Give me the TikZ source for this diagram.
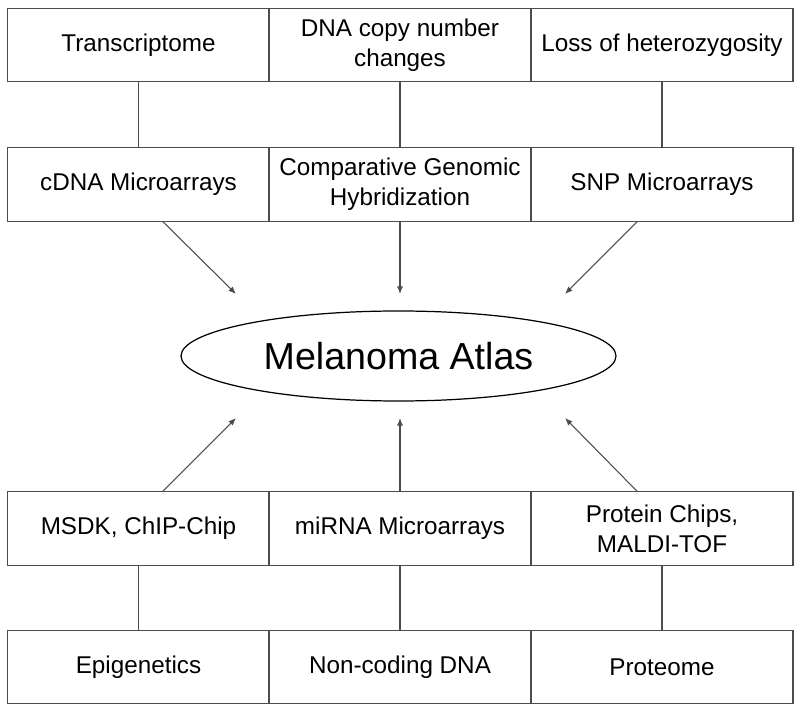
\documentclass[tikz,border=0pt]{standalone}
\usepackage{fontspec}
\setmainfont{Liberation Sans}
\usetikzlibrary{arrows.meta,shapes.geometric}

\begin{document}
\begin{tikzpicture}
\tikzset{ >={Latex[length=1.5mm,width=1.2mm]},
  cell/.style={draw=black!70, line width=0.6pt, minimum width=5.24cm, minimum height=1.47cm,
               inner sep=0pt, align=center, font=\fontsize{13.8}{17}\selectfont},
  link/.style={draw=black!70, line width=0.6pt},
}

%\draw [lightgray, dashed](0,0) grid (16,14.2);
\useasboundingbox (0,0) rectangle (16,14.2);

%%% Blocos

% data types (top)
\node [cell] (trans) at ( 2.77,13.3) {Transcriptome};
\node [cell] (dnacn) at ( 8.00,13.3) {DNA copy number\\changes};
\node [cell] (loh)   at (13.24,13.3) {Loss of heterozygosity};

% platforms (top)
\node [cell] (cdna) at ( 2.77,10.51) {cDNA Microarrays};
\node [cell] (cgh)  at ( 8.00,10.51) {Comparative Genomic\\Hybridization};
\node [cell] (snp)  at (13.24,10.51) {SNP Microarrays};

% atlas
\node [ellipse, draw, line width=0.7pt, minimum width=8.7cm, minimum height=1.8cm, inner sep=0pt,
       font=\fontsize{21.4}{25}\selectfont] (atlas) at (7.97,7.08) {Melanoma Atlas};

% platforms (bottom)
\node [cell] (msdk)  at ( 2.77,3.63) {MSDK, ChIP-Chip};
\node [cell] (mirna) at ( 8.00,3.63) {miRNA Microarrays};
\node [cell] (prot)  at (13.24,3.63) {Protein Chips,\\MALDI-TOF};

% data types (bottom)
\node [cell] (epi)    at ( 2.77,0.86) {Epigenetics};
\node [cell] (noncod) at ( 8.00,0.86) {Non-coding DNA};
\node [cell] (proteo) at (13.24,0.86) {Proteome};

% arrow tips near the atlas
\coordinate (tipTL) at ( 4.72,8.32);
\coordinate (tipTM) at ( 8.00,8.32);
\coordinate (tipTR) at (11.30,8.32);
\coordinate (tipBL) at ( 4.72,5.84);
\coordinate (tipBM) at ( 8.00,5.84);
\coordinate (tipBR) at (11.30,5.84);

%%% Linhas

% data type -- platform
\draw [link] (trans) -- (cdna);
\draw [link] (dnacn) -- (cgh);
\draw [link] (loh)   -- (snp);
\draw [link] (msdk)  -- (epi);
\draw [link] (mirna) -- (noncod);
\draw [link] (prot)  -- (proteo);

% platform -> atlas
\draw [link, ->] ([xshift=0.49cm]cdna.south) -- (tipTL);
\draw [link, ->] (cgh.south) -- (tipTM);
\draw [link, ->] ([xshift=-0.5cm]snp.south) -- (tipTR);
\draw [link, ->] ([xshift=0.49cm]msdk.north) -- (tipBL);
\draw [link, ->] (mirna.north) -- (tipBM);
\draw [link, ->] ([xshift=-0.5cm]prot.north) -- (tipBR);

\end{tikzpicture}
\end{document}
